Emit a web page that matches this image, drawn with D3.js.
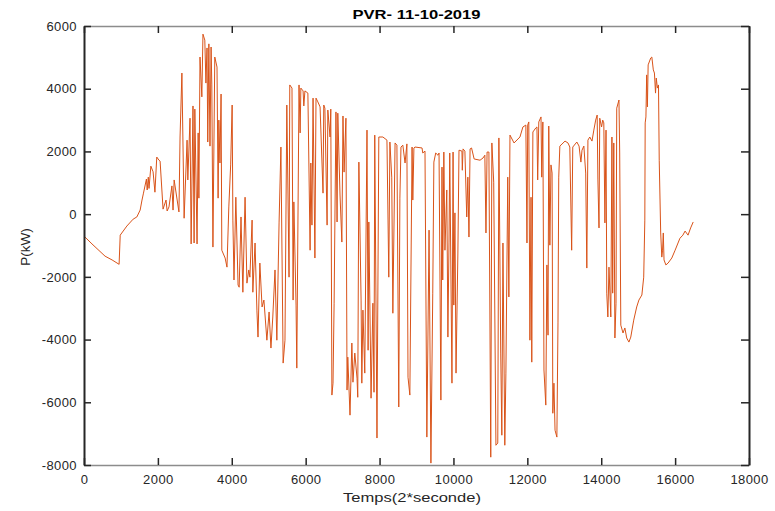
<!DOCTYPE html>
<html>

<head>
    <meta charset="utf-8">
    <title>PVR- 11-10-2019</title>
    <script type="text/javascript" src="https://d3js.org/d3.v7.min.js"></script>
    <style>
        body { margin: 0; background: #fff; }
        text { font-family: "Liberation Sans", Arial, Helvetica, sans-serif; fill: #262626; }
    </style>
</head>

<body>
    <script type="text/javascript">
        //Samples (time in 2*seconds, power in kW)
        var timeValues = [
            0, 216, 570, 760, 950, 980, 1160, 1330, 1430, 1520, 1570, 1610, 1690, 1710, 1740, 1760, 1810, 1870, 1920, 1970,
            2030, 2060, 2140, 2220, 2250, 2300, 2380, 2410, 2440, 2570, 2600, 2650, 2710, 2790, 2810, 2870, 2900, 2950, 2980, 3000,
            3060, 3090, 3110, 3140, 3190, 3220, 3270, 3300, 3330, 3350, 3380, 3410, 3440, 3460, 3490, 3540, 3600, 3630, 3650, 3680,
            3710, 3730, 3820, 3870, 3920, 3970, 4010, 4030, 4060, 4110, 4170, 4200, 4250, 4300, 4360, 4410, 4460, 4490, 4550, 4570,
            4630, 4680, 4710, 4760, 4820, 4870, 4950, 5010, 5060, 5110, 5170, 5220, 5280, 5330, 5390, 5440, 5490, 5550, 5570, 5630,
            5660, 5680, 5740, 5760, 5820, 5850, 5870, 5930, 5950, 5980, 6060, 6120, 6140, 6170, 6200, 6250, 6280, 6330, 6390, 6470,
            6490, 6520, 6580, 6600, 6660, 6680, 6710, 6740, 6770, 6820, 6850, 6870, 6930, 6980, 7010, 7040, 7090, 7120, 7140, 7200,
            7250, 7280, 7330, 7390, 7410, 7440, 7500, 7520, 7550, 7600, 7660, 7690, 7710, 7770, 7820, 7850, 7870, 7930, 7980, 8090,
            8200, 8250, 8280, 8330, 8360, 8420, 8470, 8520, 8550, 8580, 8630, 8690, 8740, 8770, 8820, 8880, 8900, 8930, 8960, 9150,
            9170, 9230, 9280, 9340, 9390, 9440, 9470, 9520, 9580, 9610, 9660, 9690, 9710, 9740, 9770, 9820, 9850, 9880, 9900, 9960,
            9990, 10010, 10040, 10070, 10120, 10150, 10230, 10240, 10260, 10310, 10360, 10390, 10420, 10450, 10490, 10560, 10720, 10800, 10850, 10880,
            10910, 10960, 11010, 11040, 11090, 11150, 11200, 11230, 11280, 11310, 11340, 11390, 11420, 11470, 11500, 11530, 11640, 11800, 11880, 11960,
            11990, 12010, 12040, 12070, 12100, 12120, 12150, 12230, 12260, 12280, 12310, 12370, 12390, 12420, 12450, 12500, 12530, 12560, 12580, 12610,
            12640, 12670, 12690, 12720, 12750, 12800, 12830, 12850, 12880, 13020, 13100, 13150, 13200, 13230, 13340, 13400, 13450, 13480, 13530, 13580,
            13610, 13640, 13690, 13750, 13800, 13850, 13890, 13910, 13940, 13960, 14010, 14040, 14070, 14100, 14130, 14150, 14180, 14210, 14260, 14290,
            14310, 14340, 14370, 14400, 14420, 14480, 14500, 14530, 14590, 14640, 14690, 14750, 14800, 14880, 14960, 15020, 15100, 15150, 15180, 15190,
            15210, 15230, 15250, 15270, 15340, 15370, 15410, 15440, 15470, 15490, 15520, 15550, 15570, 15610, 15640, 15660, 15680, 15700, 15750, 15810,
            15910, 16000, 16130, 16210, 16270, 16350, 16420, 16490
        ];
        var powerValues = [
            -700, -950, -1340, -1460, -1600, -670, -380, -160, -90, 130, 450, 670, 1120, 770, 1180, 820, 1530, 1350, 700, 1820,
            1720, 1690, 160, 450, 100, 230, 900, 130, 1090, 70, 2460, 4500, -130, 2360, 1090, 3060, -950, 3450, -920, 3350,
            -950, 2590, 510, 5010, 3740, 5740, 5550, 4180, 5300, 2300, 5430, 2170, 5330, 4120, -1050, 5010, 4690, 510, 3000, 1630,
            3830, -1150, -1400, -1690, 230, 1570, 3480, -190, -2100, 540, -2260, -2330, -90, -2490, 540, -2200, -1780, -2010, -190, -2490,
            -920, -3060, -3920, -1560, -2960, -2740, -4020, -3120, -4270, -3280, -1780, -4020, -280, 2140, -4750, -4020, 3480, -2010, 4120, 4020,
            -2740, 390, -2900, -4910, 4120, 2590, 4020, 3930, 3450, 3930, 3860, -1150, 1630, -350, 3700, -1400, 3700, 3580, 3420, 670,
            3480, 3380, -350, 3320, 2460, 3350, -5770, -5390, -2840, 3260, -250, 3220, 610, -890, 3130, 1340, 3060, -5610, -4560, -6410,
            -4110, -5360, -4430, -5230, -5840, 1660, -2740, -5390, -3060, -5070, 2680, -4340, -250, -5870, -2840, -5680, 2520, -7140, 2460, 2460,
            2360, -2010, 2300, 1180, -3160, 2270, 2200, -6150, 510, 2140, 2200, 1630, 2240, -5200, -5770, 2140, 450, 2110, 2140, 2110,
            1950, 2010, -7110, -510, -7940, -2520, 1660, 1950, 1880, 1950, -5930, 1500, -2100, 1980, -1150, 770, -3920, -890, 1950, -5390,
            1980, -2900, 40, -5070, -1240, 2040, 2010, 1400, 2080, 2010, -90, 1180, -730, 2080, 2110, 1760, 1720, 1790, 1880, -600,
            1980, 1980, -7750, 2270, 1020, -7370, -7300, 2430, -4430, -7050, -920, -7370, -5070, 1180, -2640, 2520, 2270, 2460, 2780, 2840,
            -920, 2840, 2940, -4020, 540, -4720, 2620, 2750, 2780, 1090, 2940, 3100, 1180, 2940, -4970, -6090, -1620, -3860, 2810, -990,
            1570, 1310, -6350, -5390, -6890, -7110, -3470, 1180, 2170, 2330, 2270, 2140, -1150, 2140, 2300, 2170, 1660, 2040, 2170, 1310,
            -1720, 2360, 2460, 2330, 2680, 3000, 3160, 1090, -440, 3060, 2780, 3000, 2910, -280, 2680, -2520, -3280, -1690, -3280, 2460,
            -2520, 2270, -3950, -2840, 3380, 3640, 1950, -3540, -3790, -3630, -3950, -4080, -3920, -3380, -2960, -2740, -2580, -2010, -190, 2910,
            3100, 4440, 3420, 4760, 4980, 5010, 4600, 4500, 3860, 4340, 4020, 4120, 1720, -600, -1370, -1150, -600, -1460, -1620, -1560,
            -1400, -1150, -770, -670, -540, -670, -440, -250
        ];

        var xTicks = [0, 2000, 4000, 6000, 8000, 10000, 12000, 14000, 16000, 18000];
        var yTicks = [-8000, -6000, -4000, -2000, 0, 2000, 4000, 6000];

        var chartTitle = "PVR- 11-10-2019";
        var xLabel = "Temps(2*seconde)";
        var yLabel = "P(kW)";

        //Width and height
        var w = 775;
        var h = 511;
        var plotLeft = 84, plotRight = 749, plotTop = 26, plotBottom = 465;

        var x = d3.scaleLinear().domain([0, 18000]).range([plotLeft, plotRight]);
        var y = d3.scaleLinear().domain([-8000, 6000]).range([plotBottom, plotTop]);
        //Plain integers with an ASCII hyphen for negatives, like MATLAB
        var fmt = function(d) { return String(d); };

        var svg = d3.select("body")
            .append("svg")
            .attr("width", w)
            .attr("height", h);

        //Data line (clip to the axes box)
        svg.append("clipPath").attr("id", "box")
            .append("rect")
            .attr("x", plotLeft).attr("y", plotTop)
            .attr("width", plotRight - plotLeft).attr("height", plotBottom - plotTop);

        var line = d3.line()
            .x(function(d, i) { return x(timeValues[i]); })
            .y(function(d) { return y(d); });

        svg.append("path")
            .datum(powerValues)
            .attr("clip-path", "url(#box)")
            .attr("fill", "none")
            .attr("stroke", "#D95319")
            .attr("stroke-width", 1)
            .attr("stroke-linejoin", "round")
            .attr("d", line);

        //Axes, ticks pointing inward like MATLAB
        function styleAxis(g, domainColor, domainWidth) {
            g.select(".domain").attr("stroke", domainColor).attr("stroke-width", domainWidth);
            g.selectAll(".tick line").attr("stroke", "#262626").attr("stroke-width", 1.5);
            g.selectAll(".tick text")
                .attr("fill", "#262626")
                .style("font-size", "13px")
                .style("letter-spacing", "0.4px");
        }

        svg.append("g")
            .attr("transform", "translate(0," + plotBottom + ")")
            .call(d3.axisBottom(x).tickValues(xTicks).tickFormat(fmt).tickSizeInner(-7).tickSizeOuter(0).tickPadding(10))
            .call(styleAxis, "#8c8c8c", 1.5);

        svg.append("g")
            .attr("transform", "translate(0," + plotTop + ")")
            .call(d3.axisTop(x).tickValues(xTicks).tickSizeInner(-7).tickSizeOuter(0).tickFormat(""))
            .call(styleAxis, "#8c8c8c", 1.5);

        svg.append("g")
            .attr("transform", "translate(" + plotLeft + ",0)")
            .call(d3.axisLeft(y).tickValues(yTicks).tickFormat(fmt).tickSizeInner(-7).tickSizeOuter(0).tickPadding(7))
            .call(styleAxis, "#262626", 2);

        svg.append("g")
            .attr("transform", "translate(" + plotRight + ",0)")
            .call(d3.axisRight(y).tickValues(yTicks).tickSizeInner(-8).tickSizeOuter(0).tickFormat(""))
            .call(styleAxis, "#262626", 2);

        //Title and labels
        svg.append("text")
            .attr("x", (plotLeft + plotRight) / 2)
            .attr("y", 19)
            .attr("text-anchor", "middle")
            .attr("textLength", 128)
            .attr("lengthAdjust", "spacingAndGlyphs")
            .style("font-size", "13px")
            .style("font-weight", "bold")
            .style("fill", "#000")
            .text(chartTitle);

        svg.append("text")
            .attr("x", 412)
            .attr("y", 502)
            .attr("text-anchor", "middle")
            .attr("textLength", 138)
            .attr("lengthAdjust", "spacingAndGlyphs")
            .style("font-size", "13.5px")
            .text(xLabel);

        svg.append("text")
            .attr("transform", "translate(30,247) rotate(-90)")
            .attr("text-anchor", "middle")
            .style("font-size", "13.5px")
            .text(yLabel);
    </script>
</body>

</html>
